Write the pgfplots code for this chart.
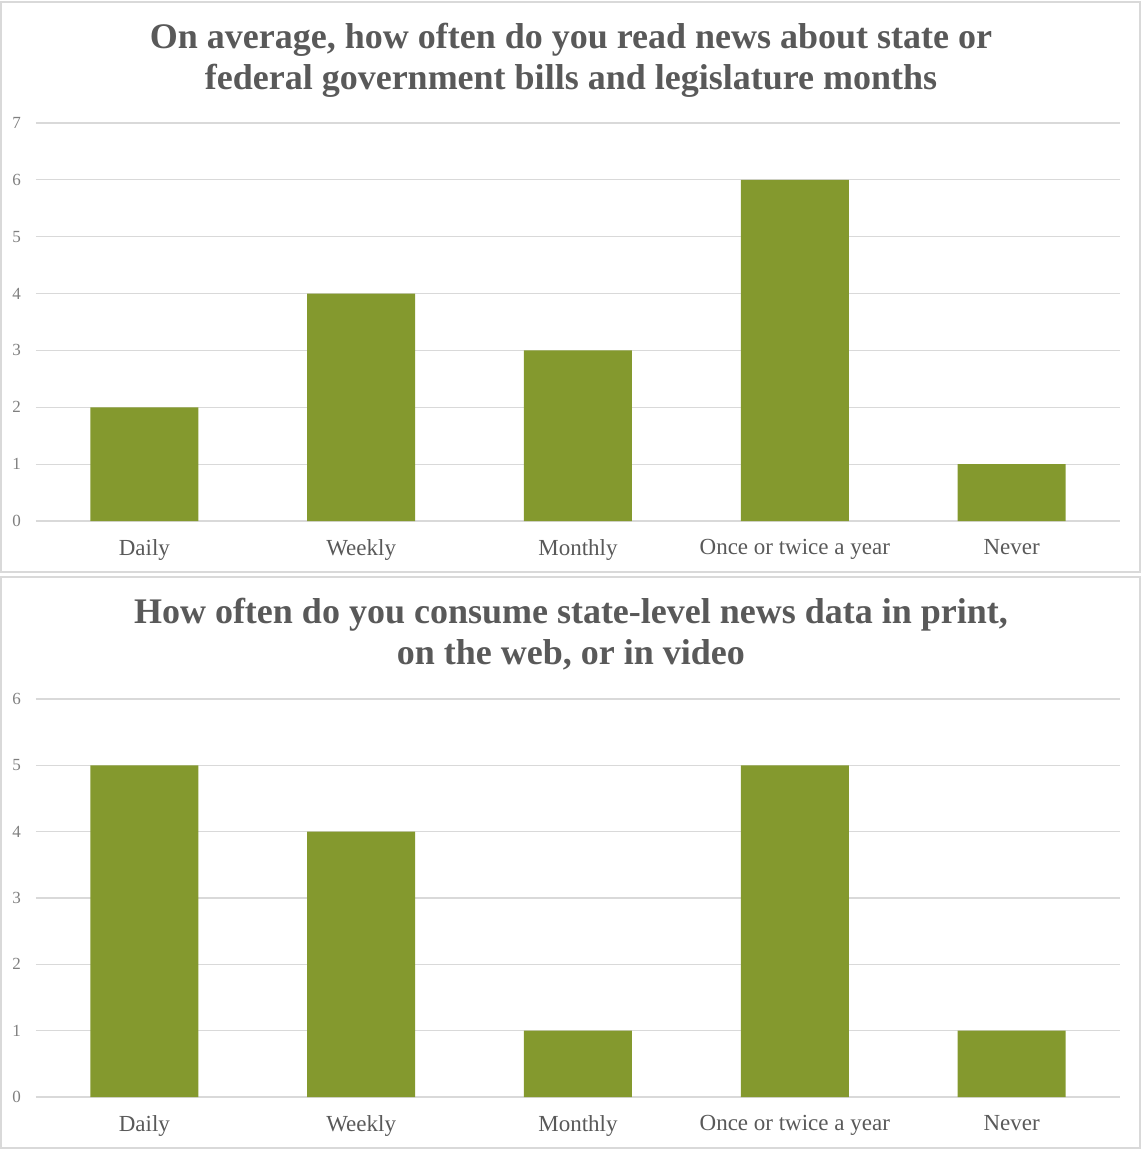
\documentclass[border=0pt]{standalone}
\usepackage{pgfplots}
\pgfplotsset{compat=1.18}
\usepackage{fontspec}
\setmainfont{Liberation Serif}

\definecolor{barolive}{HTML}{84992E}
\definecolor{gridgray}{HTML}{D9D9D9}
\definecolor{textgray}{HTML}{595959}
\definecolor{tickgray}{HTML}{7F7F7F}

\pgfplotsset{
  panel/.style={
    scale only axis,
    width=1084pt,
    height=398pt,
    ybar,
    bar width=108pt,
    bar shift=0pt,
    xmin=-0.5, xmax=4.5,
    ymin=0,
    xtick={0,1,2,3,4},
    xticklabels={Daily,Weekly,Monthly,Once or twice a year,Never},
    axis line style={draw=none},
    major tick length=0pt,
    ymajorgrids,
    grid style={gridgray, line width=1.2pt},
    yticklabel style={font=\fontsize{17}{17}\selectfont, text=tickgray, inner sep=0pt, xshift=-15pt},
    xticklabel style={font=\fontsize{23}{23}\selectfont, text=textgray, inner sep=0pt, yshift=-18pt},
    /pgf/number format/assume math mode=true,
  },
}

\begin{document}
\begin{tikzpicture}
\useasboundingbox (0pt,0pt) rectangle (1141pt,-1151pt);

% panel frames
\draw[gridgray, line width=1.2pt] (1pt,-2pt) rectangle (1140pt,-572pt);
\draw[gridgray, line width=1.2pt] (1pt,-577pt) rectangle (1140pt,-1148pt);

% first panel
\begin{axis}[panel, at={(36pt,-521pt)}, anchor=south west, ymax=7, ytick={0,1,...,7}]
  \addplot[fill=barolive, draw=none] coordinates {(0,2) (1,4) (2,3) (3,6) (4,1)};
\end{axis}
\node[text=textgray, font=\bfseries\fontsize{36}{41}\selectfont, align=center] at (571pt,-60pt)
  {On average, how often do you read news about state or\\federal government bills and legislature months};

% second panel
\begin{axis}[panel, at={(36pt,-1097pt)}, anchor=south west, ymax=6, ytick={0,1,...,6}]
  \addplot[fill=barolive, draw=none] coordinates {(0,5) (1,4) (2,1) (3,5) (4,1)};
\end{axis}
\node[text=textgray, font=\bfseries\fontsize{36}{41}\selectfont, align=center] at (571pt,-634pt)
  {How often do you consume state-level news data in print,\\on the web, or in video};
\end{tikzpicture}
\end{document}
